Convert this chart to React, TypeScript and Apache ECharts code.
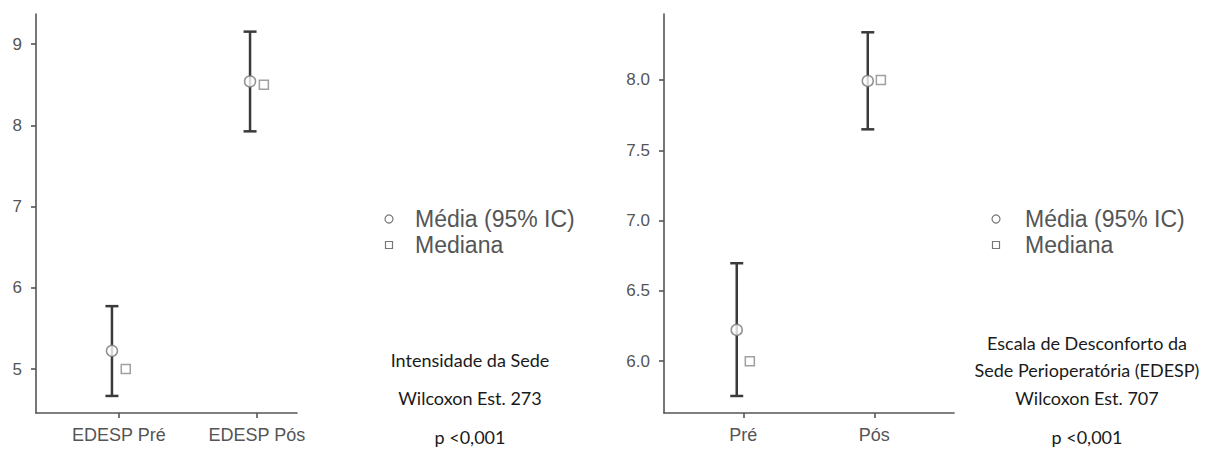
import React, { useEffect, useRef } from "react";
import * as echarts from "echarts";

const catsLeft = ["EDESP Pré", "EDESP Pós"];
const meanLeft = [5.225, 8.54];
const lowLeft = [4.67, 7.926];
const highLeft = [5.775, 9.153];
const medLeft = [5.0, 8.5];
const yTicksLeft = [5, 6, 7, 8, 9];

const catsRight = ["Pré", "Pós"];
const meanRight = [6.223, 7.993];
const lowRight = [5.753, 7.649];
const highRight = [6.697, 8.339];
const medRight = [6.0, 8.0];
const yTicksRight = [6.0, 6.5, 7.0, 7.5, 8.0];

const legendLabels = ["Média (95% IC)", "Mediana"];
const notesLeft = ["Intensidade da Sede", "Wilcoxon Est. 273", "p <0,001"];
const notesRight = ["Escala de Desconforto da", "Sede Perioperatória (EDESP)", "Wilcoxon Est. 707", "p <0,001"];

const OFF = 0.05;
const AX = "#555";
const LBL = "#555";
const SANS = '"Liberation Sans", Arial, sans-serif';

function xAxisFor(gridIndex: number, cats: string[], min: number, max: number) {
  const vals = cats.map((_, i) => i + 1);
  return {
    type: "value",
    gridIndex,
    min,
    max,
    splitLine: { show: false },
    axisLine: { show: true, lineStyle: { color: AX, width: 1.6 } },
    axisTick: { show: true, customValues: vals, length: 5, lineStyle: { color: AX, width: 1.6 } },
    axisLabel: {
      customValues: vals,
      formatter: (v: number) => cats[Math.round(v) - 1] ?? "",
      color: LBL,
      fontSize: 18,
      fontFamily: SANS,
      margin: 13,
    },
  };
}

function yAxisFor(gridIndex: number, ticks: number[], min: number, max: number, dec: number) {
  return {
    type: "value",
    gridIndex,
    min,
    max,
    splitLine: { show: false },
    axisLine: { show: true, lineStyle: { color: AX, width: 1.6 } },
    axisTick: { show: true, customValues: ticks, length: 5, lineStyle: { color: AX, width: 1.6 } },
    axisLabel: {
      customValues: ticks,
      formatter: (v: number) => v.toFixed(dec),
      color: LBL,
      fontSize: 17,
      fontFamily: SANS,
      margin: 14,
    },
  };
}

function seriesFor(idx: number, mean: number[], low: number[], high: number[], med: number[]) {
  const errData = mean.map((_, i) => [i + 1 - OFF, low[i], high[i]]);
  return [
    {
      type: "custom",
      xAxisIndex: idx,
      yAxisIndex: idx,
      data: errData,
      z: 2,
      renderItem: (params: any, api: any) => {
        const x = api.value(0);
        const lo = api.coord([x, api.value(1)]);
        const hi = api.coord([x, api.value(2)]);
        const hw = 6.5;
        const st = { stroke: "#3a3a3a", lineWidth: 2.5, fill: "none" };
        return {
          type: "group",
          children: [
            { type: "line", shape: { x1: lo[0], y1: lo[1], x2: hi[0], y2: hi[1] }, style: st },
            { type: "line", shape: { x1: lo[0] - hw, y1: lo[1], x2: lo[0] + hw, y2: lo[1] }, style: st },
            { type: "line", shape: { x1: hi[0] - hw, y1: hi[1], x2: hi[0] + hw, y2: hi[1] }, style: st },
          ],
        };
      },
    },
    {
      type: "scatter",
      xAxisIndex: idx,
      yAxisIndex: idx,
      z: 3,
      symbol: "circle",
      symbolSize: 11,
      itemStyle: { color: "#fff", borderColor: "#777", borderWidth: 1.5 },
      data: mean.map((v, i) => [i + 1 - OFF, v]),
    },
    {
      type: "scatter",
      xAxisIndex: idx,
      yAxisIndex: idx,
      z: 3,
      symbol: "rect",
      symbolSize: 9,
      itemStyle: { color: "#fff", borderColor: "#888", borderWidth: 1.5 },
      data: med.map((v, i) => [i + 1 + OFF, v]),
    },
  ];
}

function legendGraphics(mx: number, tx: number) {
  const st = { fill: "#fff", stroke: "#777", lineWidth: 1.2 };
  const font = '23px "Liberation Sans", Arial, sans-serif';
  return [
    { type: "circle", shape: { cx: mx, cy: 219, r: 4 }, style: st },
    { type: "rect", shape: { x: mx - 3.5, y: 241.5, width: 7, height: 7 }, style: st },
    {
      type: "text",
      style: { text: legendLabels[0], x: tx, y: 219, font, fill: LBL, textVerticalAlign: "middle" },
    },
    {
      type: "text",
      style: { text: legendLabels[1], x: tx, y: 245, font, fill: LBL, textVerticalAlign: "middle" },
    },
  ];
}

function noteGraphics(cx: number, lines: string[], ys: number[]) {
  return lines.map((t, i) => ({
    type: "text",
    style: {
      text: t,
      x: cx,
      y: ys[i],
      font: '18px Lato, sans-serif',
      fill: "#1a1a1a",
      textAlign: "center",
      textVerticalAlign: "middle",
    },
  }));
}

export default function App() {
  const ref = useRef<HTMLDivElement>(null);
  useEffect(() => {
    document.body.style.margin = "0";
    if (!ref.current) return;
    const chart = echarts.init(ref.current, undefined, { renderer: "svg" });
    chart.setOption({
      animation: false,
      backgroundColor: "#fff",
      grid: [
        { left: 36, top: 14, width: 261, height: 399 },
        { left: 664, top: 14, width: 290, height: 399 },
      ],
      xAxis: [xAxisFor(0, catsLeft, 0.4, 2.29), xAxisFor(1, catsRight, 0.395, 2.608)],
      yAxis: [yAxisFor(0, yTicksLeft, 4.46, 9.37, 0), yAxisFor(1, yTicksRight, 5.632, 8.469, 1)],
      series: [
        ...seriesFor(0, meanLeft, lowLeft, highLeft, medLeft),
        ...seriesFor(1, meanRight, lowRight, highRight, medRight),
      ],
      graphic: [
        ...legendGraphics(389, 415),
        ...legendGraphics(996, 1025),
        ...noteGraphics(470, notesLeft, [360, 398, 437]),
        ...noteGraphics(1087, notesRight, [343, 370, 398, 437]),
      ],
    });
    return () => chart.dispose();
  }, []);
  return <div ref={ref} style={{ width: 1206, height: 451 }} />;
}
